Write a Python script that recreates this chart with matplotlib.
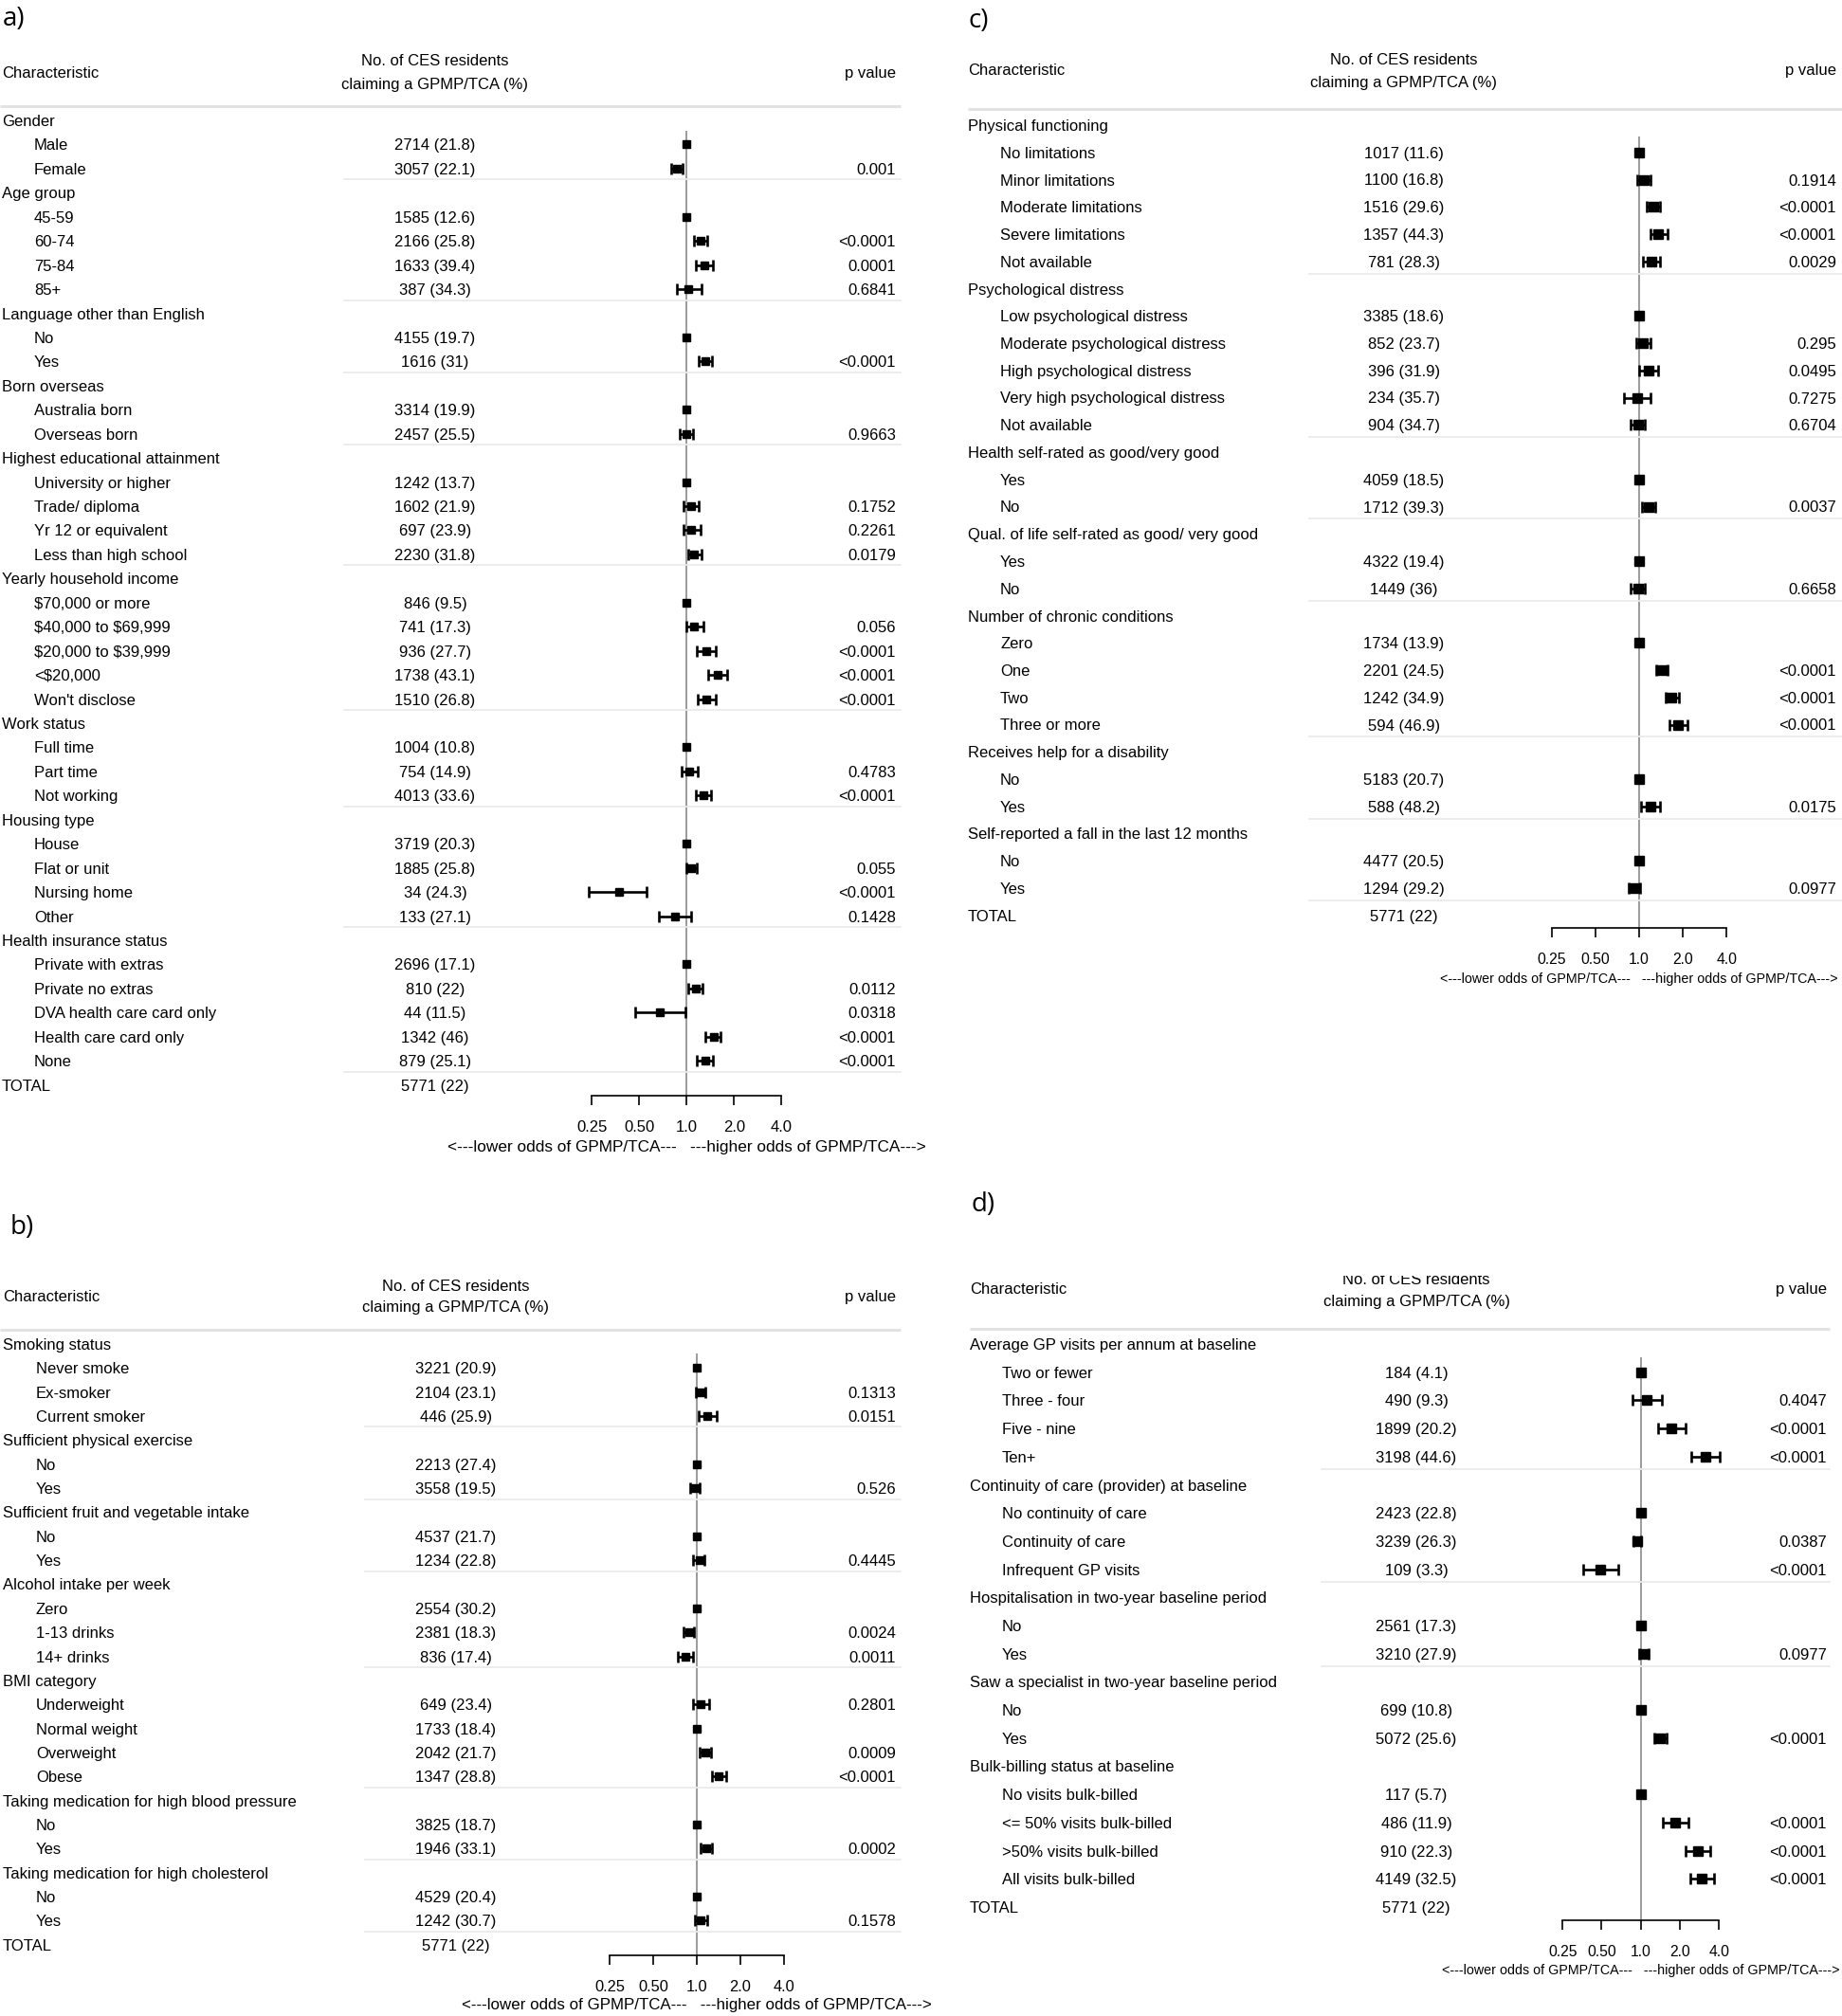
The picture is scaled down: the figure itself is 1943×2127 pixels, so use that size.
import numpy as np
import matplotlib.pyplot as plt
from matplotlib import transforms
from matplotlib.ticker import FixedLocator, NullLocator

plt.rcParams['font.family'] = ['Liberation Sans', 'DejaVu Sans']

# ---------------- panel a: socio-demographic ----------------
a_labels = ["Gender", "Male", "Female", "Age group", "45-59", "60-74", "75-84", "85+",
            "Language other than English", "No", "Yes", "Born overseas", "Australia born", "Overseas born",
            "Highest educational attainment", "University or higher", "Trade/ diploma", "Yr 12 or equivalent",
            "Less than high school", "Yearly household income", "$70,000 or more", "$40,000 to $69,999",
            "$20,000 to $39,999", "<$20,000", "Won't disclose", "Work status", "Full time", "Part time",
            "Not working", "Housing type", "House", "Flat or unit", "Nursing home", "Other",
            "Health insurance status", "Private with extras", "Private no extras", "DVA health care card only",
            "Health care card only", "None", "TOTAL"]
a_counts = ["", "2714 (21.8)", "3057 (22.1)", "", "1585 (12.6)", "2166 (25.8)", "1633 (39.4)", "387 (34.3)",
            "", "4155 (19.7)", "1616 (31)", "", "3314 (19.9)", "2457 (25.5)",
            "", "1242 (13.7)", "1602 (21.9)", "697 (23.9)", "2230 (31.8)",
            "", "846 (9.5)", "741 (17.3)", "936 (27.7)", "1738 (43.1)", "1510 (26.8)",
            "", "1004 (10.8)", "754 (14.9)", "4013 (33.6)",
            "", "3719 (20.3)", "1885 (25.8)", "34 (24.3)", "133 (27.1)",
            "", "2696 (17.1)", "810 (22)", "44 (11.5)", "1342 (46)", "879 (25.1)", "5771 (22)"]
nan = np.nan
a_or = [nan, 1.0, 0.87, nan, 1.0, 1.23, 1.29, 1.03, nan, 1.0, 1.31, nan, 1.0, 1.0,
        nan, 1.0, 1.07, 1.07, 1.12, nan, 1.0, 1.12, 1.34, 1.57, 1.34, nan, 1.0, 1.04, 1.27,
        nan, 1.0, 1.06, 0.37, 0.84, nan, 1.0, 1.14, 0.68, 1.49, 1.31, nan]
a_lo = [nan, nan, 0.80, nan, nan, 1.12, 1.14, 0.87, nan, nan, 1.19, nan, nan, 0.91,
        nan, nan, 0.96, 0.95, 1.02, nan, nan, 0.99, 1.16, 1.37, 1.18, nan, nan, 0.93, 1.14,
        nan, nan, 1.0, 0.24, 0.67, nan, nan, 1.03, 0.47, 1.32, 1.16, nan]
a_hi = [nan, nan, 0.94, nan, nan, 1.36, 1.47, 1.25, nan, nan, 1.45, nan, nan, 1.10,
        nan, nan, 1.19, 1.23, 1.25, nan, nan, 1.27, 1.53, 1.81, 1.52, nan, nan, 1.18, 1.43,
        nan, nan, 1.16, 0.56, 1.07, nan, nan, 1.26, 0.98, 1.64, 1.46, nan]
a_p = ["", "", "0.001", "", "", "<0.0001", "0.0001", "0.6841", "", "", "<0.0001", "", "", "0.9663",
       "", "", "0.1752", "0.2261", "0.0179", "", "", "0.056", "<0.0001", "<0.0001", "<0.0001",
       "", "", "0.4783", "<0.0001", "", "", "0.055", "<0.0001", "0.1428",
       "", "", "0.0112", "0.0318", "<0.0001", "<0.0001", ""]

# ---------------- panel b: lifestyle ----------------
b_labels = ["Smoking status", "Never smoke", "Ex-smoker", "Current smoker", "Sufficient physical exercise",
            "No", "Yes", "Sufficient fruit and vegetable intake", "No", "Yes", "Alcohol intake per week",
            "Zero", "1-13 drinks", "14+ drinks", "BMI category", "Underweight", "Normal weight", "Overweight",
            "Obese", "Taking medication for high blood pressure", "No", "Yes",
            "Taking medication for high cholesterol", "No", "Yes", "TOTAL"]
b_counts = ["", "3221 (20.9)", "2104 (23.1)", "446 (25.9)", "", "2213 (27.4)", "3558 (19.5)",
            "", "4537 (21.7)", "1234 (22.8)", "", "2554 (30.2)", "2381 (18.3)", "836 (17.4)",
            "", "649 (23.4)", "1733 (18.4)", "2042 (21.7)", "1347 (28.8)", "", "3825 (18.7)", "1946 (33.1)",
            "", "4529 (20.4)", "1242 (30.7)", "5771 (22)"]
b_or = [nan, 1.0, 1.06, 1.18, nan, 1.0, 0.97, nan, 1.0, 1.04, nan, 1.0, 0.88, 0.83,
        nan, 1.07, 1.0, 1.15, 1.42, nan, 1.0, 1.17, nan, 1.0, 1.06, nan]
b_lo = [nan, nan, 0.98, 1.03, nan, nan, 0.90, nan, nan, 0.94, nan, nan, 0.81, 0.74,
        nan, 0.94, nan, 1.05, 1.28, nan, nan, 1.07, nan, nan, 0.97, nan]
b_hi = [nan, nan, 1.15, 1.37, nan, nan, 1.05, nan, nan, 1.13, nan, nan, 0.96, 0.94,
        nan, 1.22, nan, 1.26, 1.59, nan, nan, 1.28, nan, nan, 1.18, nan]
b_p = ["", "", "0.1313", "0.0151", "", "", "0.526", "", "", "0.4445", "", "", "0.0024", "0.0011",
       "", "0.2801", "", "0.0009", "<0.0001", "", "", "0.0002", "", "", "0.1578", ""]

# ---------------- panel c: health ----------------
c_labels = ["Physical functioning", "No limitations", "Minor limitations", "Moderate limitations",
            "Severe limitations", "Not available", "Psychological distress", "Low psychological distress",
            "Moderate psychological distress", "High psychological distress",
            "Very high psychological distress", "Not available", "Health self-rated as good/very good",
            "Yes", "No", "Qual. of life self-rated as good/ very good", "Yes", "No",
            "Number of chronic conditions", "Zero", "One", "Two", "Three or more",
            "Receives help for a disability", "No", "Yes", "Self-reported a fall in the last 12 months",
            "No", "Yes", "TOTAL"]
c_counts = ["", "1017 (11.6)", "1100 (16.8)", "1516 (29.6)", "1357 (44.3)", "781 (28.3)",
            "", "3385 (18.6)", "852 (23.7)", "396 (31.9)", "234 (35.7)", "904 (34.7)",
            "", "4059 (18.5)", "1712 (39.3)", "", "4322 (19.4)", "1449 (36)",
            "", "1734 (13.9)", "2201 (24.5)", "1242 (34.9)", "594 (46.9)",
            "", "5183 (20.7)", "588 (48.2)", "", "4477 (20.5)", "1294 (29.2)", "5771 (22)"]
c_or = [nan, 1.0, 1.07, 1.25, 1.36, 1.21, nan, 1.0, 1.06, 1.16, 0.97, 0.98, nan, 1.0, 1.17,
        nan, 1.0, 0.98, nan, 1.0, 1.43, 1.67, 1.86, nan, 1.0, 1.19, nan, 1.0, 0.93, nan]
c_lo = [nan, nan, 0.97, 1.13, 1.19, 1.06, nan, nan, 0.95, 1.0, 0.79, 0.88, nan, nan, 1.05,
        nan, nan, 0.88, nan, nan, 1.31, 1.52, 1.61, nan, nan, 1.03, nan, nan, 0.85, nan]
c_hi = [nan, nan, 1.19, 1.40, 1.56, 1.39, nan, nan, 1.19, 1.36, 1.19, 1.10, nan, nan, 1.30,
        nan, nan, 1.10, nan, nan, 1.56, 1.87, 2.15, nan, nan, 1.39, nan, nan, 1.02, nan]
c_p = ["", "", "0.1914", "<0.0001", "<0.0001", "0.0029", "", "", "0.295", "0.0495", "0.7275", "0.6704",
       "", "", "0.0037", "", "", "0.6658", "", "", "<0.0001", "<0.0001", "<0.0001",
       "", "", "0.0175", "", "", "0.0977", ""]

# ---------------- panel d: health service use ----------------
d_labels = ["Average GP visits per annum at baseline", "Two or fewer", "Three - four", "Five - nine", "Ten+",
            "Continuity of care (provider) at baseline", "No continuity of care", "Continuity of care",
            "Infrequent GP visits", "Hospitalisation in two-year baseline period", "No", "Yes",
            "Saw a specialist in two-year baseline period", "No", "Yes", "Bulk-billing status at baseline",
            "No visits bulk-billed", "<= 50% visits bulk-billed", ">50% visits bulk-billed",
            "All visits bulk-billed", "TOTAL"]
d_counts = ["", "184 (4.1)", "490 (9.3)", "1899 (20.2)", "3198 (44.6)", "", "2423 (22.8)", "3239 (26.3)",
            "109 (3.3)", "", "2561 (17.3)", "3210 (27.9)", "", "699 (10.8)", "5072 (25.6)", "",
            "117 (5.7)", "486 (11.9)", "910 (22.3)", "4149 (32.5)", "5771 (22)"]
d_or = [nan, 1.0, 1.11, 1.73, 3.17, nan, 1.0, 0.94, 0.49, nan, 1.0, 1.06, nan, 1.0, 1.41,
        nan, 1.0, 1.83, 2.76, 2.95, nan]
d_lo = [nan, nan, 0.87, 1.35, 2.46, nan, nan, 0.88, 0.36, nan, nan, 0.98, nan, nan, 1.27,
        nan, nan, 1.48, 2.21, 2.40, nan]
d_hi = [nan, nan, 1.45, 2.20, 4.06, nan, nan, 1.00, 0.67, nan, nan, 1.15, nan, nan, 1.58,
        nan, nan, 2.32, 3.45, 3.67, nan]
d_p = ["", "", "0.4047", "<0.0001", "<0.0001", "", "", "0.0387", "<0.0001", "", "", "0.0977",
       "", "", "<0.0001", "", "", "<0.0001", "<0.0001", "<0.0001", ""]

ticks = [0.25, 0.5, 1.0, 2.0, 4.0]
tick_labels = ["0.25", "0.50", "1.0", "2.0", "4.0"]
caption = "<---lower odds of GPMP/TCA---   ---higher odds of GPMP/TCA--->"

W, H = 1943, 2127
fig = plt.figure(figsize=(W / 100, H / 100), dpi=100)
fs = 12


def panel(labels, counts, ors, los, his, pvals, seps, box, row0, step, cols, heads,
          null_x, unit, null_top, axis_y, lab_y, cap_y, tick_fs, cap_fs, ms,
          head_line, sep_line, clip_top=None):
    x0, y0, x1, y1 = box
    ax = fig.add_axes([x0 / W, 1 - y1 / H, (x1 - x0) / W, (y1 - y0) / H])
    ax.set_xscale('log', base=2)
    ax.set_xlim(2 ** ((x0 - null_x) / unit), 2 ** ((x1 - null_x) / unit))
    row = lambda y: (y - row0) / step
    ax.set_ylim(row(y1), row(y0))
    tr = transforms.blended_transform_factory(fig.transFigure, ax.transData)
    x_char, x_item, x_num, x_p = cols
    y_char, y_n1, y_n2 = heads

    # header
    ax.text(x_char / W, row(y_char), "Characteristic", transform=tr, fontsize=fs,
            va='center_baseline', ha='left')
    t = ax.text(x_num / W, row(y_n1), "No. of CES residents", transform=tr, fontsize=fs,
                va='center_baseline', ha='center')
    if clip_top is not None:
        # top of this line is cut off in the original
        t.set_clip_on(True)
        t.set_clip_box(transforms.Bbox.from_extents(0, 0, W, H - clip_top))
    ax.text(x_num / W, row(y_n2), "claiming a GPMP/TCA (%)", transform=tr, fontsize=fs,
            va='center_baseline', ha='center')
    ax.text(x_p / W, row(y_char), "p value", transform=tr, fontsize=fs,
            va='center_baseline', ha='right')
    hx0, hx1, hy = head_line
    ax.plot([hx0 / W, hx1 / W], [row(hy), row(hy)], transform=tr, color='#e2e2e2',
            lw=2.2, clip_on=False, solid_capstyle='butt')

    # table rows
    for i, lab in enumerate(labels):
        item = counts[i] != "" and lab != "TOTAL"
        ax.text((x_item if item else x_char) / W, i, lab, transform=tr, fontsize=fs,
                va='center_baseline', ha='left', parse_math=False)
        if counts[i]:
            ax.text(x_num / W, i, counts[i], transform=tr, fontsize=fs,
                    va='center_baseline', ha='center')
        if pvals[i]:
            ax.text(x_p / W, i, pvals[i], transform=tr, fontsize=fs,
                    va='center_baseline', ha='right')
    sx0, sx1 = sep_line
    for s in seps:
        ax.plot([sx0 / W, sx1 / W], [s + 0.45, s + 0.45], transform=tr, color='#ebebeb',
                lw=1.3, clip_on=False)

    # forest plot
    ax.vlines(1.0, row(null_top), row(axis_y), color='#8a8a8a', lw=1.2, zorder=1)
    o = np.array(ors, dtype=float)
    lo = np.array(los, dtype=float)
    hi = np.array(his, dtype=float)
    y = np.arange(len(labels))
    has_ci = ~np.isnan(lo)
    ref = ~np.isnan(o) & ~has_ci
    ax.errorbar(o[has_ci], y[has_ci], xerr=[o[has_ci] - lo[has_ci], hi[has_ci] - o[has_ci]],
                fmt='s', color='black', ms=ms, capsize=4.2, elinewidth=1.9, capthick=1.9, zorder=3)
    ax.plot(o[ref], y[ref], 's', color='black', ms=ms, zorder=3)

    for side in ['top', 'left', 'right']:
        ax.spines[side].set_visible(False)
    ax.spines['bottom'].set_position(('data', row(axis_y)))
    ax.spines['bottom'].set_bounds(0.25, 4.0)
    ax.spines['bottom'].set_linewidth(1.2)
    ax.xaxis.set_major_locator(FixedLocator(ticks))
    ax.xaxis.set_minor_locator(NullLocator())
    ax.set_xticklabels(tick_labels)
    em = tick_fs * 100 / 72
    pad = (lab_y - axis_y - 10 - 0.36 * em) / (100 / 72)
    ax.tick_params(axis='x', direction='out', length=7, width=1.2, pad=pad, labelsize=tick_fs)
    ax.set_yticks([])
    ax.patch.set_alpha(0)
    ax.text(1.0, row(cap_y), caption, fontsize=cap_fs, ha='center', va='center_baseline')
    return ax


panel(a_labels, a_counts, a_or, a_lo, a_hi, a_p, [2, 7, 10, 13, 18, 24, 28, 33, 39],
      (0, 0, 960, 1230), 127, 25.44, (2, 36, 459, 945), (76, 63, 88),
      724.3, 50.0, 138, 1156, 1188, 1209, 12, 12.4, 6.4,
      (0, 950, 112), (363, 950))
panel(b_labels, b_counts, b_or, b_lo, b_hi, b_p, [3, 6, 9, 13, 18, 21, 24],
      (0, 1240, 960, 2127), 1418, 25.35, (3, 38, 481, 945), (1367, 1356, 1378),
      735.0, 45.8, 1428, 2063, 2095, 2114, 11.8, 12.2, 6.3,
      (0, 950, 1403), (385, 950))
panel(c_labels, c_counts, c_or, c_lo, c_hi, c_p, [5, 11, 14, 17, 22, 25, 28],
      (960, 0, 1943, 1100), 132, 28.75, (1021, 1055, 1481, 1937), (73, 62, 86),
      1729.0, 46.15, 144, 979, 1011, 1031, 11.3, 10.3, 7.0,
      (1021, 1943, 115), (1381, 1943))
panel(d_labels, d_counts, d_or, d_lo, d_hi, d_p, [4, 8, 11],
      (960, 1240, 1943, 2127), 1418, 29.7, (1023, 1057, 1494, 1927), (1359, 1349, 1372),
      1730.7, 41.25, 1432, 2026, 2058, 2078, 11.3, 10.3, 7.0,
      (1023, 1930, 1402), (1394, 1930), clip_top=1346)

for lab, x, y in [("a)", 3, 20), ("b)", 11, 1295), ("c)", 1022, 22), ("d)", 1024, 1271)]:
    fig.text(x / W, 1 - y / H, lab, fontsize=20, family='Open Sans', ha='left', va='center')

fig.savefig('out.png', dpi=100)
